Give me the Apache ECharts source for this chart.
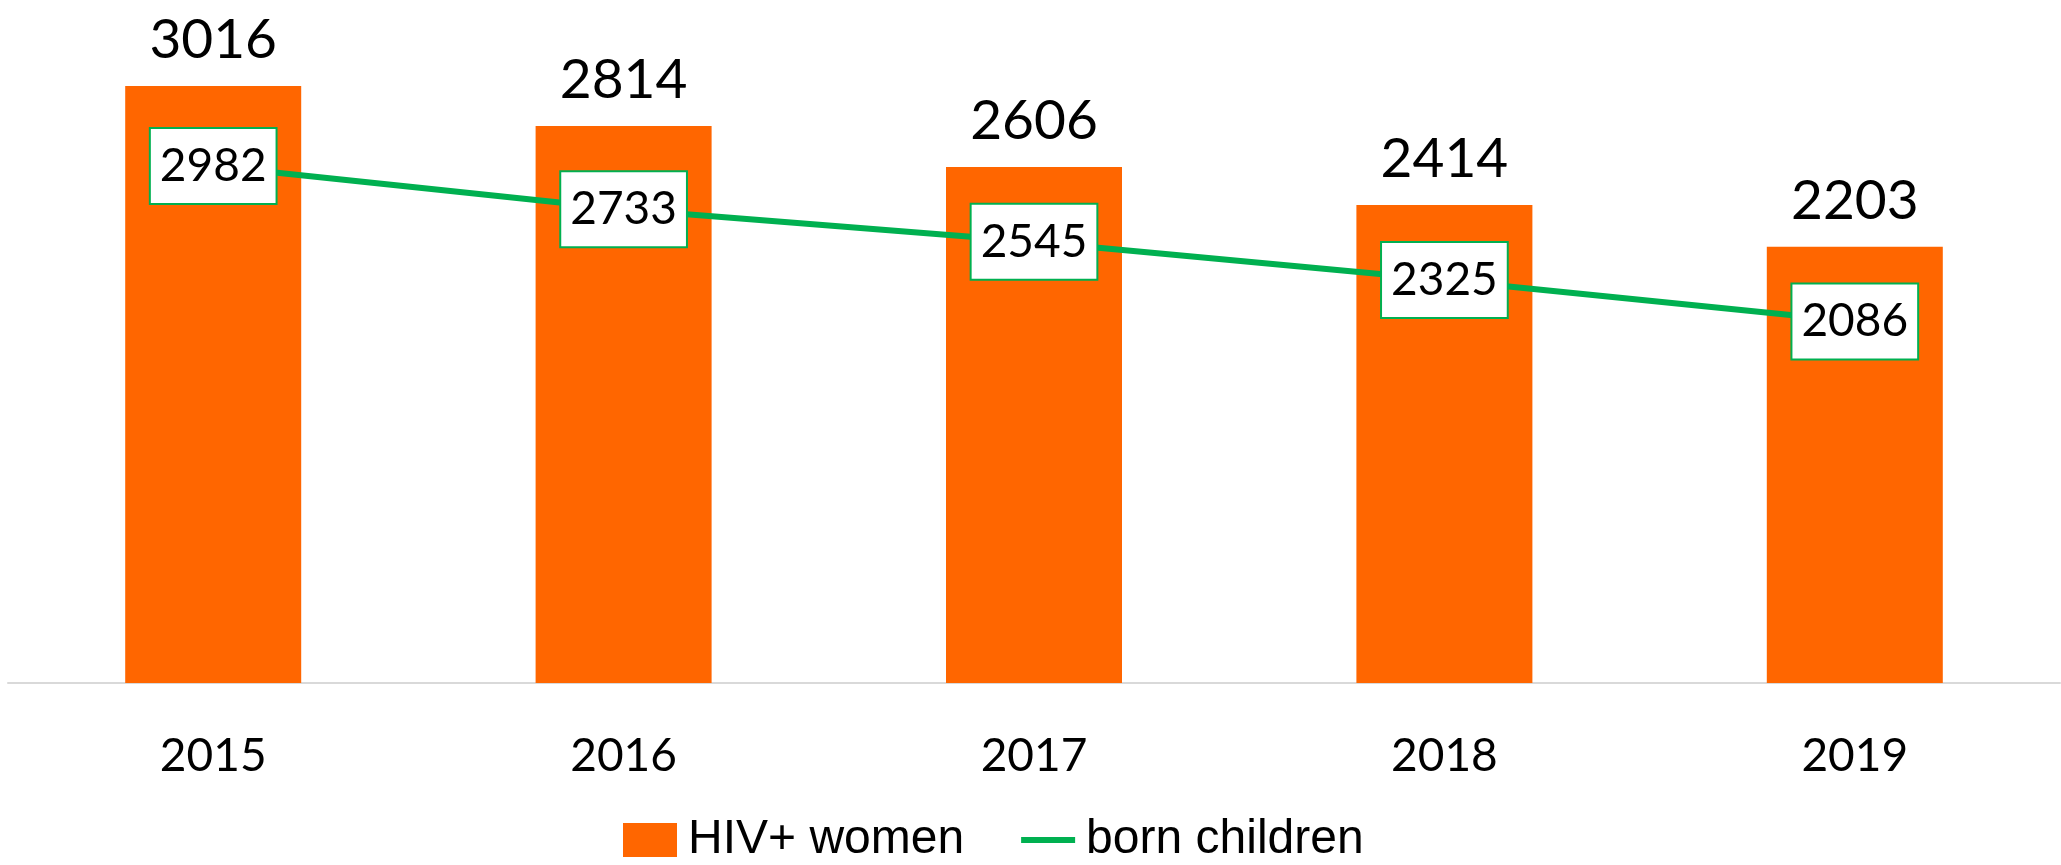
<!DOCTYPE html>
<html>
<head>
<meta charset="utf-8">
<script src="https://cdn.jsdelivr.net/npm/echarts@6/dist/echarts.min.js"></script>
<style>
  html, body { margin: 0; padding: 0; background: #fff; }
  #chart { width: 2061px; height: 865px; }
</style>
</head>
<body>
<div id="chart"></div>
<script>
const years = ['2015', '2016', '2017', '2018', '2019'];
const hivWomen = [3016, 2814, 2606, 2414, 2203];
const bornChildren = [2982, 2733, 2545, 2325, 2086];

document.addEventListener('DOMContentLoaded', function() {
    const chart = echarts.init(document.getElementById('chart'));

    let option = {
        animation: false,
        backgroundColor: '#ffffff',
        grid: { left: 8, right: 1, top: 0, bottom: 182 },
        legend: {
            left: 618,
            top: 811,
            itemWidth: 54,
            itemHeight: 34,
            itemGap: 57,
            textStyle: {
                fontFamily: '"Liberation Sans", Arial, sans-serif',
                fontSize: 48,
                color: '#000',
                padding: [0, 0, 0, 6]
            },
            data: [
                { name: 'HIV+ women', icon: 'rect' },
                { name: 'born children', icon: 'path://M0,0h9v1H0z', itemStyle: { color: '#00b050' } }
            ]
        },
        xAxis: {
            type: 'category',
            data: years,
            axisLine: { lineStyle: { color: '#d9d9d9', width: 2 } },
            axisTick: { length: 18, lineStyle: { color: '#d9d9d9', width: 2 } },
            axisLabel: {
                fontFamily: 'Lato, sans-serif',
                fontSize: 46,
                color: '#000',
                margin: 50
            }
        },
        yAxis: [
            { type: 'value', min: 0, max: 3450, show: false, splitLine: { show: false } },
            { type: 'value', min: 0, max: 3940, show: false, splitLine: { show: false } }
        ],
        series: [
            {
                name: 'HIV+ women',
                type: 'bar',
                data: hivWomen,
                barWidth: 176,
                itemStyle: { color: '#ff6600' },
                label: {
                    show: true,
                    position: 'top',
                    distance: 18,
                    fontFamily: 'Lato, sans-serif',
                    fontSize: 55,
                    color: '#000'
                }
            },
            {
                name: 'born children',
                type: 'line',
                yAxisIndex: 1,
                data: bornChildren,
                symbol: 'circle',
                symbolSize: 1,
                showSymbol: true,
                lineStyle: { color: '#00b050', width: 6 },
                itemStyle: { color: '#00b050' },
                label: {
                    show: true,
                    position: 'inside',
                    fontFamily: 'Lato, sans-serif',
                    fontSize: 46,
                    color: '#000',
                    backgroundColor: '#fff',
                    borderColor: '#00b050',
                    borderWidth: 2,
                    padding: [14, 9]
                }
            }
        ]
    };

    chart.setOption(option);

    window.addEventListener('resize', () => {
        chart.resize();
    });
});
</script>
</body>
</html>
